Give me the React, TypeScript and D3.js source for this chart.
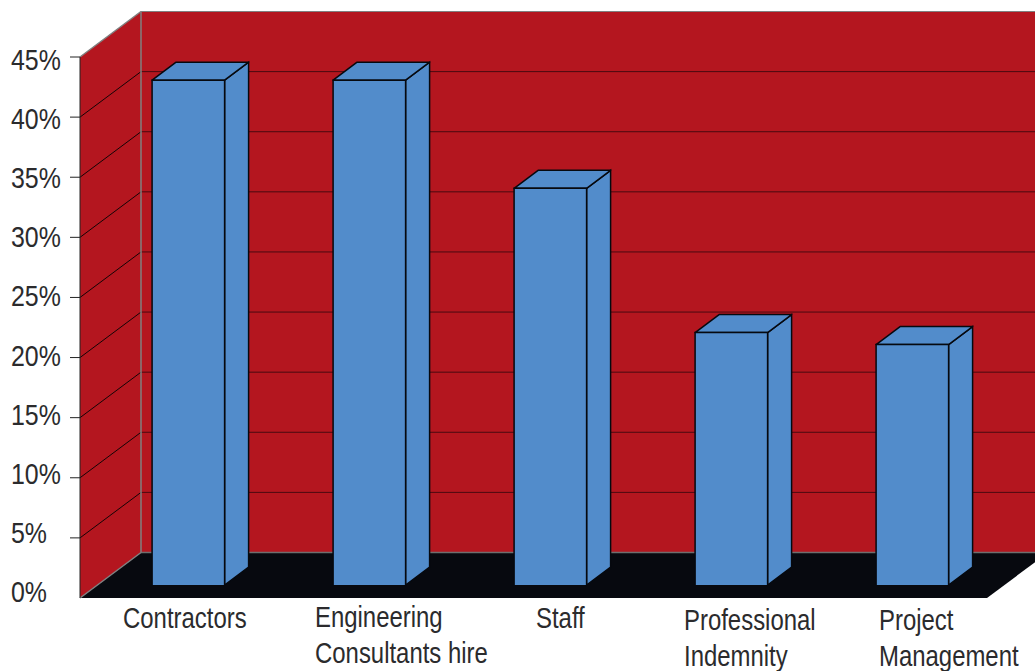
import React from "react";
import * as d3 from "d3";

const categories = ["Contractors", "Engineering Consultants hire", "Staff", "Professional Indemnity", "Project Management"];
const values = [42, 42, 33, 21, 20];
const ticks = [0, 5, 10, 15, 20, 25, 30, 35, 40, 45];
const categoryLines = [["Contractors"], ["Engineering", "Consultants hire"], ["Staff"], ["Professional", "Indemnity"], ["Project", "Management"]];
const labelLeft = [123, 315, 536, 684, 879];
const labelTop = [628, 627, 628, 630, 630];

const W = 1035, H = 671;
const FONT = "'Liberation Sans', sans-serif";
const RED = "#b4161f", BLUE = "#528ccb", FLOOR = "#07090f", INK = "#2b2b2d";
const wallX = 80, depthX = 61, depthY = 45.5;
const floorRight = 987;
const FS = 29, SX_CAT = 0.825, SX_TICK = 0.86;
const y = d3.scaleLinear().domain([0, 45]).range([598, 57]);
const barY = d3.scaleLinear().domain([0, 45]).range([585, 44.1]);
const x = d3.scaleBand().domain(categories).range([98.1, 98.1 + 904.5]).paddingInner(108.5 / 181).paddingOuter(54 / 181);
const labelY = d3.scaleLinear().domain([0, 45]).range([602, 70]);
const barDX = 24, barDY = 18;
const pts = (p: number[][]) => p.map((q) => q.join(",")).join(" ");
const EDGE = "#06090f";

function Label({ tx, ty, sx, children }: { tx: number; ty: number; sx: number; children: string }) {
  return (
    <text transform={`translate(${tx},${ty}) scale(${sx},1)`} fontFamily={FONT} fontSize={FS} fill={INK}>
      {children}
    </text>
  );
}

export default function App() {
  const y0 = y(0), yT = y(45);
  return (
    <svg width={W} height={H} viewBox={`0 0 ${W} ${H}`} style={{ position: "absolute", left: 0, top: 0, background: "#fff" }}>
      <polygon points={pts([[wallX + depthX, y0 - depthY], [W, y0 - depthY], [W, yT - depthY], [wallX + depthX, yT - depthY]])} fill={RED} />
      <polygon points={pts([[wallX, y0], [wallX + depthX, y0 - depthY], [wallX + depthX, yT - depthY], [wallX, yT]])} fill={RED} />
      <polygon points={pts([[wallX, y0], [floorRight, y0], [floorRight + depthX, y0 - depthY], [wallX + depthX, y0 - depthY]])} fill={FLOOR} />
      {ticks.slice(1, -1).map((t) => (
        <g key={t} fill="none">
          <line x1={wallX + depthX} x2={W} y1={y(t) - depthY} y2={y(t) - depthY} stroke="#4a0a10" strokeWidth={1} />
          <line x1={wallX} x2={wallX + depthX} y1={y(t)} y2={y(t) - depthY} stroke="#150406" strokeWidth={1} />
        </g>
      ))}
      <line x1={wallX + depthX} x2={W} y1={yT - depthY} y2={yT - depthY} stroke="#808080" strokeWidth={1.2} />
      <line x1={wallX + depthX} x2={W} y1={y0 - depthY} y2={y0 - depthY} stroke="#6e6e6e" strokeWidth={1.5} />
      <line x1={wallX + depthX} x2={wallX + depthX} y1={yT - depthY} y2={y0 - depthY} stroke="#808080" strokeWidth={1.5} />
      <line x1={wallX} x2={wallX + depthX} y1={yT} y2={yT - depthY} stroke="#808080" strokeWidth={1.5} />
      <line x1={wallX} x2={wallX + depthX} y1={y0} y2={y0 - depthY} stroke="#808080" strokeWidth={1.5} />
      <line x1={wallX} x2={wallX} y1={yT} y2={y0} stroke="#222" strokeWidth={1} />
      {ticks.slice(1).map((t) => (
        <line key={t} x1={70} x2={wallX} y1={y(t)} y2={y(t)} stroke="#222" strokeWidth={1} />
      ))}
      {categories.map((c, i) => {
        const bx = x(c)!, bw = x.bandwidth(), top = barY(values[i]), base = barY(0);
        return (
          <g key={c} fill={BLUE}>
            <polygon points={pts([[bx + bw, base], [bx + bw + barDX, base - barDY], [bx + bw + barDX, top - barDY], [bx + bw, top]])} stroke={EDGE} strokeWidth={1.5} />
            <polygon points={pts([[bx, top], [bx + barDX, top - barDY], [bx + bw + barDX, top - barDY], [bx + bw, top]])} stroke={EDGE} strokeWidth={1.5} strokeLinejoin="round" />
            <rect x={bx} y={top} width={bw} height={base - top} stroke="none" />
            <path d={`M${bx},${base}V${top}H${bx + bw}V${base}`} fill="none" stroke={EDGE} strokeWidth={1.5} />
          </g>
        );
      })}
      {ticks.map((t) => (
        <Label key={t} tx={11} ty={labelY(t)} sx={SX_TICK}>{`${t}%`}</Label>
      ))}
      {categoryLines.map((lines, i) =>
        lines.map((l, j) => (
          <Label key={l} tx={labelLeft[i]} ty={labelTop[i] + j * 36} sx={SX_CAT}>{l}</Label>
        ))
      )}
    </svg>
  );
}
